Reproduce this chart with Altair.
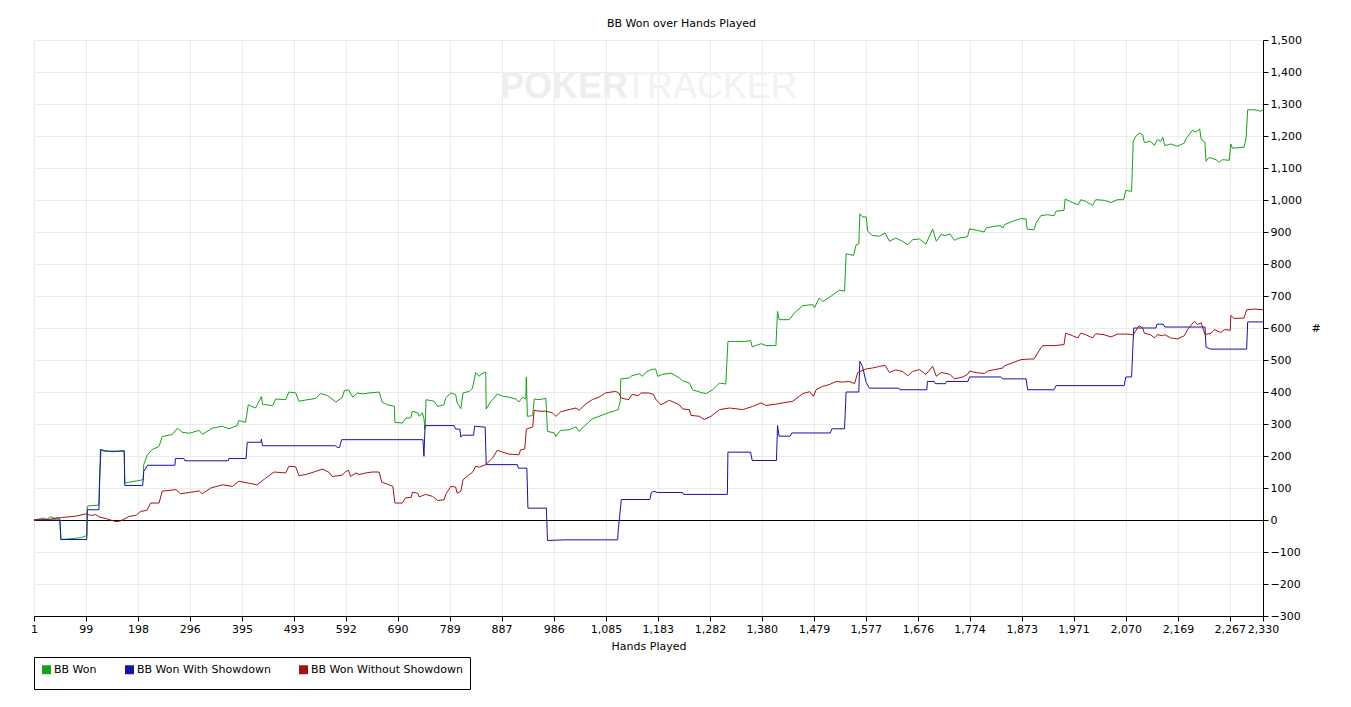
import altair as alt
import pandas as pd

SERIES = ["BB Won", "BB Won With Showdown", "BB Won Without Showdown"]
COLORS = ["#18a018", "#1414a0", "#a01414"]

X_TICKS = [1, 99, 198, 296, 395, 493, 592, 690, 789, 887, 986, 1085, 1183, 1282,
           1380, 1479, 1577, 1676, 1774, 1873, 1971, 2070, 2169, 2267, 2330]
Y_TICKS = list(range(-300, 1501, 100))

green_hands = [1, 10, 20, 25, 32, 40, 48, 50, 52, 60, 75, 90, 99, 101, 102, 110, 120, 124, 125, 128,
               135, 150, 160, 172, 173, 180, 195, 208, 209, 216, 225, 238, 244, 263, 273, 282, 295,
               314, 320, 339, 358, 370, 386, 389, 402, 407, 421, 432, 434, 453, 459, 478, 484, 497,
               503, 516, 535, 544, 557, 573, 585, 589, 597, 605, 614, 624, 636, 655, 661, 671, 684,
               685, 699, 706, 715, 718, 728, 731, 737, 740, 742, 744, 759, 766, 778, 781, 791, 800,
               803, 810, 814, 826, 832, 838, 845, 848, 857, 858, 867, 873, 879, 889, 901, 914, 920,
               927, 933, 934, 936, 946, 949, 958, 971, 974, 987, 990, 999, 1015, 1028, 1034, 1047,
               1059, 1072, 1084, 1103, 1108, 1112, 1113, 1129, 1134, 1148, 1154, 1160, 1170, 1179,
               1183, 1192, 1208, 1224, 1230, 1243, 1249, 1268, 1275, 1287, 1300, 1312, 1316, 1331,
               1350, 1359, 1362, 1379, 1388, 1407, 1410, 1413, 1432, 1442, 1458, 1477, 1480, 1489,
               1496, 1511, 1527, 1537, 1540, 1554, 1559, 1564, 1566, 1571, 1578, 1581, 1590, 1603,
               1614, 1622, 1634, 1647, 1657, 1666, 1679, 1691, 1704, 1711, 1720, 1729, 1737, 1745,
               1754, 1770, 1774, 1789, 1802, 1805, 1821, 1833, 1837, 1840, 1855, 1871, 1881, 1883,
               1896, 1900, 1909, 1922, 1934, 1938, 1953, 1955, 1969, 1979, 1985, 1994, 2007, 2013,
               2029, 2042, 2054, 2066, 2070, 2081, 2084, 2089, 2095, 2102, 2105, 2117, 2124, 2130,
               2136, 2140, 2144, 2155, 2168, 2181, 2184, 2196, 2203, 2210, 2213, 2220, 2222, 2228,
               2241, 2247, 2253, 2266, 2269, 2272, 2294, 2298, 2301, 2313, 2320, 2326, 2330]
green_bb = [0, 3, 6, 2, 10, 5, 8, 3, -61, -60, -58, -55, -50, -49, 43, 45, 46, 48, 113, 220,
            217, 213, 215, 217, 115, 118, 122, 126, 173, 204, 220, 230, 261, 267, 287, 274, 271,
            280, 268, 287, 293, 285, 295, 311, 305, 360, 350, 386, 362, 357, 378, 376, 400, 397,
            371, 375, 380, 395, 389, 369, 382, 404, 407, 384, 397, 394, 397, 400, 368, 360, 355,
            305, 303, 319, 319, 340, 335, 324, 335, 316, 284, 376, 371, 355, 360, 381, 397, 392,
            366, 348, 397, 402, 412, 461, 449, 456, 462, 347, 371, 381, 394, 387, 384, 378, 369,
            384, 378, 447, 324, 326, 378, 376, 380, 277, 272, 261, 280, 282, 291, 277, 298,
            316, 324, 332, 342, 345, 371, 441, 444, 451, 457, 449, 461, 470, 472,
            449, 455, 459, 444, 435, 428, 407, 397, 395, 407, 428, 425, 558, 558,
            558, 561, 541, 551, 545, 545, 652, 626, 626, 647, 670, 673, 663, 694,
            683, 699, 718, 715, 832, 827, 860, 863, 957, 947, 947, 902, 889, 887,
            897, 871, 881, 871, 860, 876, 878, 862, 909, 871, 892, 889, 894, 874,
            881, 885, 910, 905, 900, 912, 918, 920, 912, 923, 933, 942, 941, 909,
            907, 928, 951, 954, 951, 965, 968, 1003, 992, 985, 1001, 996, 983, 1001,
            999, 992, 1001, 1001, 1030, 1027, 1183, 1199, 1209, 1204, 1180, 1183, 1171, 1189,
            1183, 1196, 1170, 1175, 1168, 1178, 1191, 1218, 1212, 1222, 1189, 1181, 1121, 1133,
            1126, 1118, 1126, 1124, 1175, 1162, 1165, 1194, 1282, 1282, 1280, 1277, 1282]

blue_hands = [1, 50, 52, 101, 102, 124, 127, 135, 172, 173, 207, 209, 216, 268, 269, 285, 287, 369,
              370, 403, 405, 431, 432, 434, 572, 576, 580, 584, 738, 740, 742, 797, 800, 808, 810,
              813, 834, 836, 856, 858, 917, 919, 935, 937, 972, 974, 1009, 1107, 1108, 1114, 1168,
              1171, 1176, 1182, 1230, 1232, 1315, 1316, 1359, 1362, 1408, 1410, 1413, 1434, 1437,
              1510, 1513, 1537, 1540, 1564, 1566, 1571, 1578, 1584, 1640, 1642, 1693, 1694, 1707,
              1709, 1728, 1730, 1771, 1774, 1833, 1837, 1881, 1884, 1934, 1938, 2067, 2070, 2081,
              2085, 2127, 2129, 2141, 2144, 2220, 2222, 2231, 2299, 2301, 2330]
blue_bb = [0, 0, -61, -61, 32, 32, 220, 215, 215, 108, 108, 152, 171, 171, 192, 192, 185, 185,
           192, 192, 243, 243, 253, 232, 232, 227, 227, 251, 251, 199, 295, 295, 284, 284, 259,
           265, 265, 293, 290, 173, 173, 162, 162, 37, 37, -64, -62, -62, -35, 64, 64,
           86, 90, 86, 86, 80, 80, 212, 212, 186, 186, 295, 262, 262, 272,
           272, 285, 285, 400, 400, 496, 480, 430, 412, 412, 407, 407, 433, 433,
           426, 426, 433, 433, 447, 447, 441, 441, 407, 407, 420, 420, 447, 447,
           600, 600, 612, 612, 603, 603, 540, 534, 534, 619, 619]

red_hands = [1, 30, 55, 80, 99, 110, 118, 124, 140, 156, 165, 181, 195, 203, 215, 222, 238, 244, 270,
             279, 295, 314, 320, 336, 358, 377, 389, 408, 424, 440, 456, 478, 484, 497, 503, 516,
             535, 548, 560, 566, 585, 592, 597, 601, 611, 617, 630, 642, 655, 660, 671, 681, 685,
             699, 705, 716, 718, 728, 731, 743, 756, 766, 778, 782, 791, 800, 803, 810, 814, 826,
             832, 838, 845, 857, 870, 879, 889, 901, 920, 923, 931, 934, 946, 949, 958, 971, 983,
             990, 999, 1015, 1028, 1034, 1047, 1059, 1072, 1084, 1103, 1109, 1114, 1128, 1134,
             1147, 1151, 1166, 1175, 1179, 1189, 1205, 1224, 1230, 1243, 1246, 1262, 1271, 1284,
             1300, 1319, 1344, 1363, 1379, 1388, 1407, 1420, 1439, 1458, 1471, 1478, 1483, 1496,
             1508, 1521, 1533, 1546, 1556, 1562, 1578, 1590, 1603, 1614, 1622, 1634, 1647, 1657,
             1666, 1679, 1691, 1704, 1711, 1720, 1737, 1745, 1761, 1770, 1774, 1789, 1802, 1808,
             1821, 1837, 1840, 1855, 1871, 1887, 1896, 1903, 1912, 1934, 1953, 1956, 1969, 1979,
             1985, 1994, 2007, 2013, 2029, 2042, 2054, 2073, 2084, 2095, 2102, 2105, 2117, 2124,
             2130, 2140, 2144, 2155, 2168, 2181, 2187, 2200, 2206, 2213, 2220, 2232, 2238, 2250,
             2257, 2268, 2269, 2275, 2294, 2299, 2313, 2330]
red_bb = [0, 2, 8, 12, 19, 14, 17, 10, 3, -5, -3, 11, 15, 27, 30, 53, 53, 90, 95,
          82, 86, 91, 82, 100, 110, 105, 121, 115, 110, 131, 150, 147, 168, 166, 139, 142,
          152, 159, 149, 136, 140, 152, 155, 136, 147, 142, 147, 150, 150, 118, 112, 105, 53,
          53, 69, 71, 87, 84, 72, 80, 74, 61, 63, 82, 105, 103, 84, 90, 126, 142,
          149, 168, 165, 173, 194, 218, 212, 206, 204, 219, 222, 284, 291, 343, 340, 340, 335,
          324, 338, 345, 350, 343, 363, 376, 384, 397, 402, 397, 381, 376, 392,
          389, 397, 397, 392, 378, 360, 374, 360, 347, 345, 327, 324, 314, 324,
          345, 350, 345, 355, 366, 358, 362, 366, 371, 395, 401, 386, 407, 418,
          423, 433, 431, 433, 426, 461, 472, 475, 480, 483, 461, 469, 464, 451,
          464, 470, 455, 480, 449, 461, 455, 441, 447, 455, 465, 460, 458, 465,
          470, 475, 482, 491, 501, 503, 503, 522, 545, 545, 548, 584, 576, 569,
          584, 579, 569, 582, 579, 572, 581, 581, 579, 607, 600, 584, 579, 569,
          579, 576, 579, 569, 566, 576, 595, 621, 611, 616, 579, 584, 595, 586,
          595, 593, 639, 630, 631, 657, 659, 657]

rows = []
for name, hs, vs in [(SERIES[0], green_hands, green_bb),
                     (SERIES[1], blue_hands, blue_bb),
                     (SERIES[2], red_hands, red_bb)]:
    for h, v in zip(hs, vs):
        rows.append({"series": name, "hand": h, "bb": v})
df = pd.DataFrame(rows)

FONT = "DejaVu Sans"

x_enc = alt.X(
    "hand:Q",
    scale=alt.Scale(domain=[1, 2330], nice=False, zero=False),
    axis=alt.Axis(values=X_TICKS, tickCount=40, format=",.0f", title="Hands Played", grid=True,
                  gridColor="#ebebeb", domainColor="black", tickColor="black", tickSize=5,
                  labelPadding=2, labelOverlap=False, labelFlush=False, labelColor="black",
                  labelFontSize=11, labelFont=FONT, titleFont=FONT, titleFontSize=11,
                  titleFontWeight="normal", titlePadding=6, titleColor="black"),
)
y_enc = alt.Y(
    "bb:Q",
    scale=alt.Scale(domain=[-300, 1500], nice=False, zero=False),
    axis=alt.Axis(orient="right", values=Y_TICKS, tickCount=30, format=",.0f", title="#",
                  grid=True, gridColor="#ebebeb", domainColor="black", tickColor="black",
                  tickSize=5, labelPadding=2, labelOverlap=False, labelFlush=False,
                  labelColor="black", labelFontSize=11, labelFont=FONT,
                  titleFont=FONT, titleFontSize=11, titleFontWeight="normal", titleColor="black",
                  titleAngle=0, titleX=48, titleY=288, titleAlign="left",
                  titleBaseline="middle"),
)

lines = alt.Chart(df).mark_line(strokeWidth=1, interpolate="linear").encode(
    x=x_enc,
    y=y_enc,
    color=alt.Color(
        "series:N",
        scale=alt.Scale(domain=SERIES, range=COLORS),
        legend=alt.Legend(
            orient="none", legendX=0, legendY=617, direction="horizontal", title=None,
            symbolType="square", symbolSize=16, symbolStrokeWidth=5,
            strokeColor="black", fillColor="white", padding=7, columnPadding=20,
            labelFontSize=11, labelFont=FONT, labelOffset=2, labelColor="black",
        ),
    ),
)

zero = alt.Chart(pd.DataFrame({"z": [0]})).mark_rule(
    color="black", strokeWidth=1, yOffset=0.5
).encode(y="z:Q")

wm1 = alt.Chart(pd.DataFrame({"t": ["POKER"]})).mark_text(
    font="Liberation Sans", fontSize=36, fontWeight="bold", color="#eeeeee",
    align="left", baseline="alphabetic"
).encode(text="t:N", x=alt.value(466), y=alt.value(58))
wm2 = alt.Chart(pd.DataFrame({"t": ["TRACKER"]})).mark_text(
    font="Liberation Sans", fontSize=36, fontWeight="normal", color="#f2f2f2",
    align="left", baseline="alphabetic"
).encode(text="t:N", x=alt.value(591), y=alt.value(58))

chart = alt.layer(wm1, wm2, zero, lines).properties(
    width=1229,
    height=576,
    title=alt.TitleParams("BB Won over Hands Played", fontSize=11, fontWeight="normal",
                          font=FONT, color="black", offset=5, dx=33, anchor="middle"),
    autosize=alt.AutoSizeParams(type="none"),
    padding={"left": 26, "top": 32, "right": 80, "bottom": 83},
).configure_view(stroke="black", strokeWidth=1).configure(font=FONT)

chart.save("out.html", embed_options={"renderer": "svg", "actions": False})
